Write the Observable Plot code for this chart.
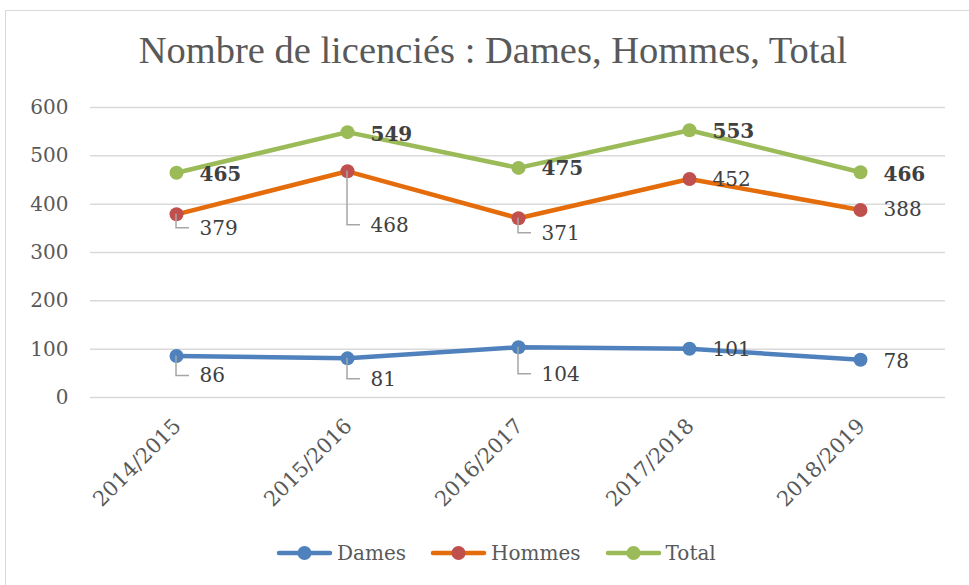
<!DOCTYPE html>
<html>
<head>
<meta charset="utf-8">
<script src="https://cdn.jsdelivr.net/npm/d3@7"></script>
<script src="https://cdn.jsdelivr.net/npm/@observablehq/plot@0.6"></script>
<style>
  html, body { margin: 0; padding: 0; background: #fff; }
  body { width: 969px; height: 585px; position: relative; overflow: hidden; font-family: "DejaVu Serif", serif; }
  #frame { position: absolute; left: 5px; top: 10px; width: 1000px; height: 620px; border: 1.5px solid #d9d9d9; box-sizing: border-box; }
  #title { position: absolute; left: 0; top: 28px; width: 986px; text-align: center; font-family: "Liberation Serif", serif; font-size: 38.5px; color: #595959; white-space: nowrap; }
  #chart { position: absolute; left: 0; top: 90px; }
  #legend { position: absolute; left: 276px; top: 541px; display: flex; align-items: center; font-size: 20px; color: #595959; }
  .item { display: flex; align-items: center; margin-right: 24px; }
  .item svg { margin-right: 4px; }
</style>
</head>
<body>
<div id="frame"></div>
<div id="title">Nombre de licenciés : Dames, Hommes, Total</div>
<div id="chart"></div>
<div id="legend"></div>
<script>
// ---- data ----
const seasons = ["2014/2015", "2015/2016", "2016/2017", "2017/2018", "2018/2019"];
const seriesNames = ["Dames", "Hommes", "Total"];
const dames  = [86, 81, 104, 101, 78];
const hommes = [379, 468, 371, 452, 388];
const total  = [465, 549, 475, 553, 466];
const yTicks = [0, 100, 200, 300, 400, 500, 600];

// ---- styles ----
const lineColors = {Dames: "#4f81bd", Hommes: "#e46c0a", Total: "#9bbb59"};
const dotColors  = {Dames: "#4f81bd", Hommes: "#c0504d", Total: "#9bbb59"};
// label vertical drop (px) below each point; leader lines for dropped labels
const labelDrop = {Dames: [20, 21, 27, 1, 2], Hommes: [14, 54, 15, 1, 0], Total: [2, 2, 1, 1, 2]};
const hasLeader = {Dames: [1, 1, 1, 0, 0], Hommes: [1, 1, 1, 0, 0], Total: [0, 0, 0, 0, 0]};

const valuesBy = {Dames: dames, Hommes: hommes, Total: total};
const rows = [];
for (const s of seriesNames) {
  valuesBy[s].forEach((v, i) => rows.push({series: s, season: seasons[i], value: v, i}));
}

const W = 969, H = 420, mT = 17, mB = 113, mL = 90, mR = 24;
const plotH = H - mT - mB;
const unitsPerPx = 600 / plotH;
const labelRows = rows.map(d => ({...d, labelY: d.value - labelDrop[d.series][d.i] * unitsPerPx}));

function leaders(index, scales) {
  const g = d3.create("svg:g").attr("fill", "none").attr("stroke", "#a6a6a6").attr("stroke-width", 1.5);
  for (const d of rows) {
    if (!hasLeader[d.series][d.i]) continue;
    const px = scales.x(d.season), py = scales.y(d.value);
    const ly = scales.y(d.value - labelDrop[d.series][d.i] * unitsPerPx);
    g.append("path").attr("d", `M${px},${py}V${ly}H${px + 13}`);
  }
  return g.node();
}

const F = '"DejaVu Serif", serif';
const chart = Plot.plot({
  width: W, height: H,
  marginTop: mT, marginBottom: mB, marginLeft: mL, marginRight: mR,
  style: {fontFamily: F, background: "transparent"},
  x: {type: "point", domain: seasons, padding: 0.5},
  y: {domain: [0, 600]},
  marks: [
    Plot.gridY(yTicks, {stroke: "#d9d9d9", strokeOpacity: 1, strokeWidth: 1.5}),
    Plot.axisY(yTicks, {tickSize: 0, tickPadding: 22, fontSize: 20, fill: "#595959", label: null}),
    Plot.axisX({tickSize: 0, tickRotate: -45, tickPadding: 25, dx: 1, fontSize: 21, fill: "#595959", label: null}),
    Plot.line(rows, {x: "season", y: "value", z: "series", stroke: d => lineColors[d.series], strokeWidth: 4.5, strokeLinejoin: "round", strokeLinecap: "round"}),
    Plot.dot(rows, {x: "season", y: "value", r: 7, fill: d => dotColors[d.series], stroke: null}),
    leaders,
    Plot.text(labelRows.filter(d => d.series !== "Total"), {x: "season", y: "labelY", text: d => String(d.value), dx: 23, textAnchor: "start", fontSize: 20, fill: "#404040"}),
    Plot.text(labelRows.filter(d => d.series === "Total"), {x: "season", y: "labelY", text: d => String(d.value), dx: 23, textAnchor: "start", fontSize: 20, fontWeight: "bold", fill: "#404040"})
  ]
});
document.getElementById("chart").appendChild(chart);

// legend
const legend = d3.select("#legend");
for (const s of seriesNames) {
  const it = legend.append("div").attr("class", "item");
  const sv = it.append("svg").attr("width", 57).attr("height", 20);
  sv.append("line").attr("x1", 3).attr("x2", 54).attr("y1", 10).attr("y2", 10)
    .attr("stroke", lineColors[s]).attr("stroke-width", 4.5).attr("stroke-linecap", "round");
  sv.append("circle").attr("cx", 28.5).attr("cy", 10).attr("r", 7).attr("fill", dotColors[s]);
  it.append("span").text(s);
}
</script>
</body>
</html>
